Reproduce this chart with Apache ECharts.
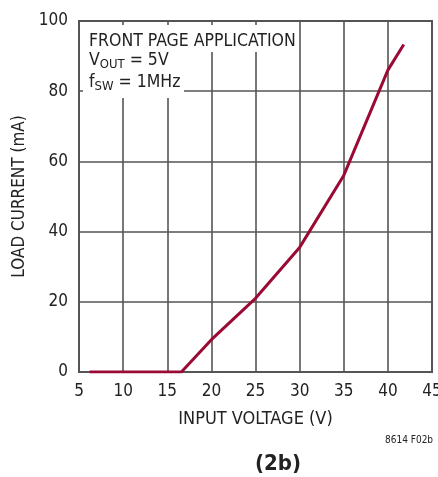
<!DOCTYPE html>
<html>
<head>
<meta charset="utf-8">
<script src="https://cdn.jsdelivr.net/npm/echarts@6/dist/echarts.min.js"></script>
<style>
  html, body { margin: 0; padding: 0; background: #fff; }
  #chart { width: 438px; height: 477px; }
</style>
</head>
<body>
<div id="chart"></div>
<script>
// Load current vs input voltage (front page application, VOUT = 5V, fSW = 1MHz)
const inputVoltage = [6.2, 16.6, 20, 25, 30, 35, 40, 41.8];
const loadCurrent  = [0, 0, 9.2, 21, 35.5, 56, 86, 93.3];

const xTicks = { min: 5, max: 45, interval: 5 };
const yTicks = { min: 0, max: 100, interval: 20 };

const FONT = "'Liberation Sans Narrow', 'DejaVu Sans Condensed', 'Liberation Sans', sans-serif";
const INK = '#222';
const GRID = '#555';

const chart = echarts.init(document.getElementById('chart'), null, { renderer: 'canvas' });

const subStyle = {
  m: { fontFamily: FONT, fontSize: 17.5, lineHeight: 22, fill: INK, verticalAlign: 'middle' },
  s: { fontFamily: FONT, fontSize: 13, lineHeight: 2, fill: INK, verticalAlign: 'bottom' }
};

chart.setOption({
  animation: false,
  backgroundColor: '#fff',
  grid: {
    left: 79, right: 6, top: 21, bottom: 105,
    outerBoundsMode: 'none',
    containLabel: false,
    show: true, borderColor: GRID, borderWidth: 2, backgroundColor: 'transparent'
  },
  xAxis: {
    type: 'value',
    min: xTicks.min, max: xTicks.max, interval: xTicks.interval,
    name: 'INPUT VOLTAGE (V)',
    nameLocation: 'middle',
    nameGap: 38,
    nameTextStyle: { fontFamily: FONT, fontSize: 18, color: INK },
    axisLine: { show: true, lineStyle: { color: GRID, width: 2 } },
    axisTick: { show: false },
    axisLabel: { fontFamily: FONT, fontSize: 17, color: INK, margin: 11, showMaxLabel: true },
    splitLine: { show: true, lineStyle: { color: GRID, width: 1.6 } }
  },
  yAxis: {
    type: 'value',
    min: yTicks.min, max: yTicks.max, interval: yTicks.interval,
    name: 'LOAD CURRENT (mA)',
    nameLocation: 'middle',
    nameGap: 42,
    nameTextStyle: { fontFamily: FONT, fontSize: 17, color: INK },
    axisLine: { show: true, lineStyle: { color: GRID, width: 2 } },
    axisTick: { show: false },
    axisLabel: { fontFamily: FONT, fontSize: 17, color: INK, margin: 11 },
    splitLine: { show: true, lineStyle: { color: GRID, width: 1.6 } }
  },
  series: [{
    type: 'line',
    data: inputVoltage.map((v, i) => [v, loadCurrent[i]]),
    showSymbol: false,
    smooth: false,
    lineStyle: { color: '#9a0a35', width: 3 },
    z: 5
  }],
  graphic: [
    // white backing behind the condition notes
    { type: 'rect', left: 83, top: 25, z: 50, shape: { width: 214, height: 27 }, style: { fill: '#fff' } },
    { type: 'rect', left: 83, top: 52, z: 50, shape: { width: 101, height: 46 }, style: { fill: '#fff' } },
    {
      type: 'text', left: 89, top: 32, z: 60,
      style: { text: 'FRONT PAGE APPLICATION', fontFamily: FONT, fontSize: 17.5, fill: INK }
    },
    {
      type: 'text', left: 89, top: 51, z: 60,
      style: { text: '{m|V}{s|OUT}{m| = 5V}', fill: INK, rich: subStyle }
    },
    {
      type: 'text', left: 89, top: 73, z: 60,
      style: { text: '{m|f}{s|SW}{m| = 1MHz}', fill: INK, rich: subStyle }
    },
    {
      type: 'text', left: 385, top: 435, z: 60,
      style: { text: '8614 F02b', fontFamily: FONT, fontSize: 10, fill: INK }
    },
    {
      type: 'text', left: 255, top: 453, z: 60,
      style: { text: '(2b)', fontFamily: FONT, fontSize: 22, fontWeight: 'bold', fill: INK, textAlign: 'center' }
    }
  ]
});
</script>
</body>
</html>
